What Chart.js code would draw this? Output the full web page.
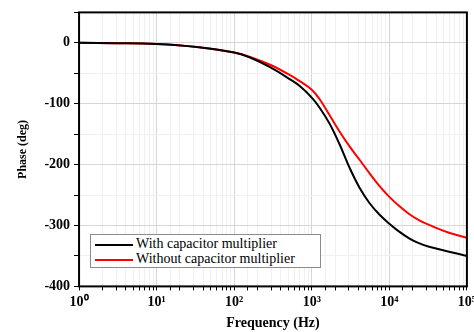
<!DOCTYPE html>
<html lang="en">
<head>
  <meta charset="UTF-8" />
  <title>Phase vs Frequency</title>
  <script src="https://cdn.jsdelivr.net/npm/chart.js"></script>
  <style>
    html, body { margin: 0; padding: 0; background: #fff; overflow: hidden; }
    #wrap { position: relative; width: 474px; height: 332px; overflow: hidden; }
    #legend {
      position: absolute; left: 90px; top: 234px; width: 231px; height: 34px;
      border: 1px solid #8c8c8c; background: #fff; box-sizing: border-box;
      font-family: "Liberation Serif", "Times New Roman", serif; font-size: 14px; color: #000;
      padding-top: 1px;
    }
    #legend .row { height: 15px; line-height: 15px; white-space: nowrap; }
    #legend .swatch { display: inline-block; width: 38px; height: 2px; margin: 0 3px 0 4px; vertical-align: middle; }
  </style>
</head>
<body>
<div id="wrap">
  <canvas id="chart" width="480" height="332"></canvas>
  <div id="legend"></div>
</div>

<script>
// frequency points (Hz) and phase readings (deg)
const freqHz = [1, 3, 10, 33, 100, 160, 290, 525, 700, 1000, 1270, 1700, 2290, 3070, 4130, 5540, 7440, 10000, 13400, 18000, 24000, 32600, 58800, 100000];
const phaseWithCap = [0, -0.5, -2, -7, -16, -24, -40, -60, -71, -90, -107, -133, -167, -205, -238, -263, -282, -297, -310, -321, -329, -335, -343, -350];
const phaseWithoutCap = [0, -0.5, -2, -7, -16, -23, -36, -53, -63, -77, -93, -119, -146, -170, -192, -214, -235, -253, -268, -281, -291, -299, -312, -320];

const seriesNames = ["With capacitor multiplier", "Without capacitor multiplier"];
const seriesColors = ["#000000", "#ff0000"];

const yTicks = [0, -100, -200, -300, -400];
const xTickLabels = { 1: "10⁰", 10: "10¹", 100: "10²", 1000: "10³", 10000: "10⁴", 100000: "10⁵" };

const serif = "'Liberation Serif', 'Times New Roman', serif";

function toPoints(ys) {
  return freqHz.map((f, i) => ({ x: f, y: ys[i] }));
}

function isDecade(v) {
  const l = Math.log10(v);
  return Math.abs(l - Math.round(l)) < 1e-9;
}

// thick black frame round the plot area
const framePlugin = {
  id: 'frame',
  afterDraw(chart) {
    const a = chart.chartArea;
    const ctx = chart.ctx;
    ctx.save();
    ctx.strokeStyle = '#000';
    ctx.lineWidth = 2;
    ctx.strokeRect(a.left, a.top, a.right - a.left, a.bottom - a.top);
    ctx.restore();
  }
};

const chart = new Chart(document.getElementById('chart').getContext('2d'), {
  type: 'line',
  data: {
    datasets: [
      { label: seriesNames[0], data: toPoints(phaseWithCap), borderColor: seriesColors[0], borderWidth: 2, pointRadius: 0, tension: 0.4, fill: false },
      { label: seriesNames[1], data: toPoints(phaseWithoutCap), borderColor: seriesColors[1], borderWidth: 2, pointRadius: 0, tension: 0.4, fill: false }
    ]
  },
  options: {
    responsive: false,
    animation: false,
    layout: { padding: { left: 16, right: 0, top: 4, bottom: 0 } },
    plugins: { legend: { display: false }, tooltip: { enabled: false } },
    scales: {
      x: {
        type: 'logarithmic',
        min: 1,
        max: 100000,
        grid: {
          color: (c) => (c.tick && isDecade(c.tick.value)) ? '#d6d6d6' : '#f0f0f0',
          tickColor: '#000',
          tickLength: 4,
          lineWidth: 1
        },
        border: { display: false },
        ticks: {
          autoSkip: false,
          maxRotation: 0,
          color: '#000',
          padding: 4,
          font: { family: serif, size: 14, weight: 'bold' },
          callback: (v) => xTickLabels[v] || ''
        },
        title: {
          display: true,
          text: 'Frequency (Hz)',
          color: '#000',
          font: { family: serif, size: 14, weight: 'bold' },
          padding: { top: 0, bottom: 0 }
        }
      },
      y: {
        min: -400,
        max: 50,
        grid: {
          color: (c) => (c.tick && c.tick.value % 100 === 0) ? '#d6d6d6' : '#f0f0f0',
          tickColor: '#000',
          tickLength: 5,
          lineWidth: 1
        },
        border: { display: false },
        ticks: {
          stepSize: 50,
          color: '#000',
          padding: 4,
          font: { family: serif, size: 14, weight: 'bold' },
          callback: (v) => yTicks.includes(v) ? String(v) : ''
        },
        title: {
          display: true,
          text: 'Phase (deg)',
          color: '#000',
          font: { family: serif, size: 12, weight: 'bold' },
          padding: { top: 0, bottom: 10 }
        }
      }
    }
  },
  plugins: [framePlugin]
});

// legend box inside the plot
const legend = document.getElementById('legend');
chart.data.datasets.forEach((ds) => {
  const row = document.createElement('div');
  row.className = 'row';
  const sw = document.createElement('span');
  sw.className = 'swatch';
  sw.style.background = ds.borderColor;
  row.appendChild(sw);
  row.appendChild(document.createTextNode(ds.label));
  legend.appendChild(row);
});
</script>
</body>
</html>
